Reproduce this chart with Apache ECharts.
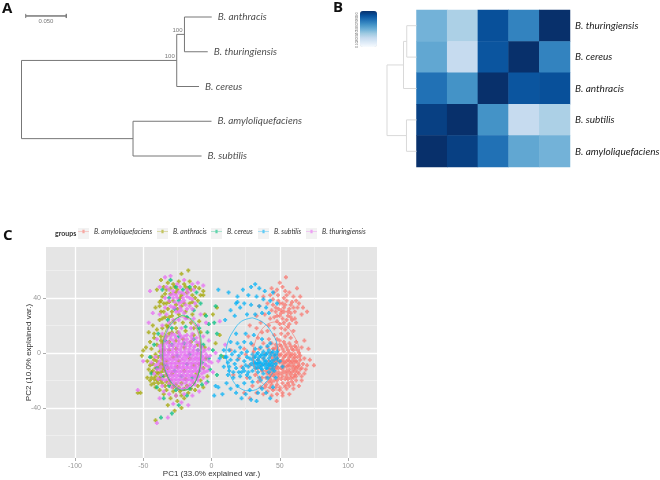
<!DOCTYPE html>
<html>
<head>
<meta charset="utf-8">
<title>Bacillus</title>
<script src="https://cdn.jsdelivr.net/npm/echarts@6/dist/echarts.min.js"></script>
<style>
  html, body { margin: 0; padding: 0; background: #fff; }
  #main { width: 660px; height: 480px; }
</style>
</head>
<body>
<div id="main"></div>
<script>
// heatmap (B)
var heatCols = ["B. amyloliquefaciens", "B. subtilis", "B. anthracis", "B. cereus", "B. thuringiensis"];
var heatRows = ["B. thuringiensis", "B. cereus", "B. anthracis", "B. subtilis", "B. amyloliquefaciens"];
var thuringRow = [48, 33, 88, 68, 100];
var cereusRow = [53, 25, 86, 100, 68];
var anthracisRow = [75, 62, 100, 86, 88];
var subtilisRow = [94, 100, 62, 25, 33];
var amyloRow = [100, 94, 75, 53, 48];
var heatValues = [thuringRow, cereusRow, anthracisRow, subtilisRow, amyloRow];
var keyTicks = [0, 100];

// phylogenetic tree (A): branch length, leaf rank
var treeBranches = [
  [[0.1907, 1.25], [0, 1.25], [0, 3.5], [0.137, 3.5]],
  [[0.2181, 2], [0.1907, 2], [0.1907, 0.5], [0.2002, 0.5]],
  [[0.2337, 0], [0.2002, 0], [0.2002, 1], [0.2288, 1]],
  [[0.2334, 3], [0.137, 3], [0.137, 4], [0.2212, 4]]
];
var treeLeaves = [
  ["B. anthracis", 0.2337, 0],
  ["B. thuringiensis", 0.2288, 1],
  ["B. cereus", 0.2181, 2],
  ["B. amyloliquefaciens", 0.2334, 3],
  ["B. subtilis", 0.2212, 4]
];
var bootstrapNodes = [[0.2002, 0.5, "100"], [0.1907, 1.25, "100"]];
var scaleBar = [[0.0052, -0.09], [0.0052, -0.03], [0.055, -0.03], [0.055, -0.09], [0.055, 0.03], [0.055, -0.03], [0.0052, -0.03], [0.0052, 0.03]];

// clustering dendrogram (B): height, row
var dendroBranches = [
  [[0.44, 1.75], [1, 1.75], [1, 4], [0.34, 4]],
  [[0, 2.5], [0.44, 2.5], [0.44, 1], [0.33, 1]],
  [[0, 0.5], [0.33, 0.5], [0.33, 1.5], [0, 1.5]],
  [[0, 3.5], [0.34, 3.5], [0.34, 4.5], [0, 4.5]]
];

// PCA (C)
var groupNames = ["B. amyloliquefaciens", "B. anthracis", "B. cereus", "B. subtilis", "B. thuringiensis"];
var groupColors = ["#F8766D", "#A3A500", "#00BF7D", "#00B0F6", "#E76BF3"];
var legendLefts = [78, 157, 211, 258, 306];
var xLabels = [-100, -50, 0, 50, 100];
var xMinor = [-75, -25, 25, 75];
var yLabels = [-40, 0, 40];
var yMinor = [-60, -20, 20, 60];

var amyloPoints = [
  [54.5,55],[62.6,47],[48.7,42],[52,48],[57,44],[60,41],[55,38],[50,36],[45,39],[47,33],[53,33],[58,35],[64,36],[67,33],[70,30],[66,28],[61,30],[56,30],[51,29],[48,27],[44,31],[41,36],[38,41],[35,34],[39,28],[43,25],[52,25],[58,26],[62,22],[57,21],[50,21],[46,18],[54,17],[60,16],[42,20],[36,22],[33,27],[49,32],[55,42],[59,37],[53,40],[46,44],[50,51],[44,47],[63,33],[65,41],[52,36],[56,27],[48,23],[61,25],
  [51,31],[54,35],[49,38],[57,32],[47,30],[55,24],[50,27],[53,30],[58,29],[60,33],[45,35],[43,42],[54,45],[48,46],[62,38],[59,24],[53,22],[46,26],[56,19],[51,18],
  [75,-9],[70,-9],[68,-4],[71,3],[66,4],[62,8],[58,11],[54,12],[50,9],[46,13],[42,10],[38,7],[34,11],[30,6],[27,12],[24,3],[20,-4],[65,-2],[63,2],[61,-1],[59,3],[57,0],[55,4],[53,1],[51,5],[49,2],[47,6],[45,3],[43,0],[41,4],[60,-4],[58,-2],[56,-5],[54,-2],[52,-5],[50,-2],[48,-4],[46,-1],[44,-3],[42,-6],[62,-6],[64,-9],[60,-8],[58,-7],[56,-9],[54,-7],[52,-9],[50,-7],[48,-10],[46,-7],[44,-9],[42,-11],[40,-8],[38,-4],[36,-9],[34,-5],[66,-11],[62,-11],[60,-12],[57,-12],[55,-13],[52,-12],[49,-14],[47,-12],[45,-14],[43,-15],[40,-13],[37,-13],[34,-11],[32,-16],[68,-15],[64,-15],[61,-16],[58,-16],[55,-17],[52,-17],[49,-18],[46,-17],[43,-19],[40,-18],[37,-18],[34,-21],[66,-20],[62,-20],[59,-21],[56,-22],[52,-22],[48,-23],[44,-23],[40,-23],[36,-25],[60,-26],[55,-26],[50,-27],[45,-27],[41,-28],[38,-30],[33,-29],[28,-33],[47.7,-35],[24,-29],[64,-24],[57,-30],[52,-31],[30,-24],[26,-18],[22,-10],[28,-9],[25,-1],[31,1],[35,3],[39,-1],[57,7],[61,5],[68,9],[44,7],[48,10],[53,8],[16,-16],[14,2],[37,15],[33,18],[28,20],[41,16],[51,14],[56,14],
  [64,0],[62,4],[60,2],[58,5],[56,2],[54,6],[52,3],[50,6],[48,4],[46,3],[65,-5],[63,-3],[61,-3],[59,-1],[57,-3],[55,-1],[53,-3],[51,-1],[49,-1],[47,-3],[63,-7],[61,-6],[59,-6],[57,-6],[55,-6],[53,-7],[51,-6],[49,-6],[47,-6],[45,-5],[65,-12],[63,-10],[61,-10],[59,-10],[57,-9],[55,-10],[53,-10],[51,-11],[49,-11],[47,-10],[45,-11],[43,-12],[63,-14],[61,-13],[59,-14],[57,-14],[55,-15],[53,-14],[51,-15],[49,-16],[47,-15],[45,-16],[43,-17],[41,-15],[62,-17],[60,-18],[58,-18],[56,-19],[54,-19],[51,-19],[48,-20],[46,-20],[44,-21],[42,-21],[60,-23],[57,-24],[54,-24],[50,-25],[47,-25],[43,-25],[39,-25],[52,-29],[48,-30],[44,-31],[67,-8],[69,-12],[72,-5],[66,-17]
];

var anthracisPoints = [
  [-17,60],[-22,57.5],[-32,51],[-37,53],[-40,46],[-33,46],[-28,50],[-24,52],[-20,50],[-16,52],[-12,48],[-9,47],[-25,46],[-30,43],[-36,41],[-35,36],[-28,38],[-22,42],[-18,44],[-14,42],[-10,38],[-6,45],[-6,42],[-26,35],[-32,32],[-37,30],[-41,33],[-22,34],[-16,36],[-11,34],[-14,28],[-19,30],[-24,28],[-29,27],[-34,26],[-38,24],[-43,20],[-46,15],[-40,17],[-33,20],[-27,22],[-21,22],[-15,22],[-9,23],[-5,28],[1,28],[4,33],
  [-35,48],[-30,47],[-26,44],[-23,40],[-20,36],[-27,48],[-34,43],[-37,38],[-33,36],[-29,30],[-25,32],[-38,34],[-35,30],[-31,26],[-12,40],[-8,42],[-15,46],[-19,48],[-36,25],[-32,19],[-29,15],[-37,9],[-42,14],
  [-54,-29],[-52,-29],[-50,1.7],[-51,-2],[-48,4],[-45,8],[-42,11],[-37,12],[-31,14],[-25,15],[-19,16],[-13,13],[-8,15],[-44,3],[-40,6],[-36,7],[-31,8],[-26,9],[-21,10],[-15,8],[-10,6],[-5,4],[-47,-6],[-44,-3],[-41,-1],[-38,1],[-35,2],[-31,2],[-26,3],[-43,-8],[-40,-6],[-38,-10],[-36,-4],[-35,-9],[-33,-6],[-46,-12],[-43,-13],[-40,-14],[-37,-14],[-35,-13],[-32,-11],[-47,-18],[-44,-18],[-41,-17],[-38,-18],[-35,-17],[-33,-16],[-42,-22],[-39,-22],[-36,-22],[-33,-21],[-30,-20],[-26,-23],[-22,-22],[-18,-24],[-13,-22],[-38,-27],[-33,-27],[-28,-28],[-23,-28],[-17,-29],[-12,-27],[-6,-25],[-3,-17],[-8,-20],[-30,-33],[-25,-35],[-20,-33],[-32,-38],[-27,-42],[-22,-40],[-41,-49],[-9,-8],[-6,-11],[-4,-4],[-11,-15],[-13,-9],[-16,-4],[-20,-13],[-25,-10],[-28,-3],[-29,-15],[-36,18],[-26,18],[-13,18],[-33,12],[3,7],[6,13],[9,-3],[-20,4],[-24,-6],[-19,-19],[-38,37],[-31,37],[-14,37],[-17,47],
  [-45,-9],[-42,-5],[-39,-3],[-37,-8],[-44,-14],[-41,-11],[-39,-15],[-36,-11],[-45,-20],[-42,-19],[-40,-20],[-37,-20],[-34,-24],[-31,-23],[-41,-25],[-44,-23],[-28,-25],[-24,-25],[-20,-26],[-15,-26],[-10,-24],[-35,-30],[-26,-31],[-22,-31]
];

var cereusPoints = [
  [-30,53],[-26,48],[-21,46],[-16,48],[-11,44],[-24,38],[-31,40],[-36,46],[-8,36],[-13,31],[-4,27],[3,34],[2,22],[-2,21],[-18,26],[-27,32],[-32,24],[-39,14],[-29,18],[-19,19],[-9,18],[-3,15],[4,14],[-42,6],[-34,9],[-24,12],[-13,10],[-6,6],[1,2],[7,-2],[-45,-3],[-37,-2],[-29,6],[-20,7],[-10,2],[-2,-4],[-40,-11],[-33,-9],[-25,-2],[-16,-1],[-7,-7],[-1,-12],[4,-16],[-44,-15],[-36,-17],[-27,-13],[-18,-8],[-9,-13],[-3,-21],[-40,-25],[-31,-24],[-22,-17],[-14,-18],[-7,-23],[-26,-27],[-16,-26],[-35,-33],[-18,-31],[-24,-38],[-29,-44],[-37,-47]
];

var subtilisPoints = [
  [32,50],[23,46],[12.5,44],[29,48],[35,47],[39,45],[45,44],[27,42],[19,41],[33,41],[38,39],[43,38],[48,36],[24,36],[18,36],[29,35],[35,34],[40,33],[21,33],[14,31],[17,27],[10,24],[37,29],[32,28],[26,28],[42,29],[5,46],[19,37],
  [2,-31],[5,-25],[3,-24],[8,-30],[11,-22],[14,-26],[18,-29],[22,-33],[25,-30],[29,-34],[33,-35],[28,-27],[34,-29],[37,-26],[40,-29],[43,-33],[45,-25],[19,-24],[24,-22],[30,-21],[36,-20],[12,-16],[16,-18],[21,-17],[26,-16],[9,-10],[13,-10],[18,-11],[23,-11],[27,-10],[6,-4],[10,-3],[14,-5],[19,-5],[24,-6],[28,-4],[9,2],[13,2],[17,1],[22,0],[26,1],[14,8],[19,7],[24,8],[29,7],[18,14],[25,14],[31,13],[37,10],[43,7],
  [15,-1],[12,-7],[17,-8],[20,-2],[16,-14],[20,-14],[24,-13],[13,-13],[11,-3],[21,4],[26,-3],[29,-8],[25,-9],
  [30,-1],[32,-3],[34,0],[36,-2],[38,1],[40,-1],[42,2],[44,0],[46,-2],[48,1],[30,-5],[32,-7],[34,-5],[36,-7],[38,-4],[40,-6],[42,-4],[44,-6],[46,-5],[48,-4],[31,-9],[33,-11],[35,-10],[37,-12],[39,-9],[41,-11],[43,-9],[45,-10],[47,-8],[30,-13],[34,-14],[38,-15],[42,-14],[46,-13],[36,4],[32,3],[41,5],[27,-14],[28,-18],[35,-18],[41,-18],[47,-18],[22,-14],[50,-6],[52,-10],
  [31,-3],[33,-1],[35,-3],[37,-1],[39,-2],[41,0],[43,-2],[45,1],[47,-1],[31,-7],[33,-8],[35,-7],[37,-9],[39,-6],[41,-8],[43,-7],[45,-8],[32,-11],[36,-11],[40,-11],[44,-12],[38,-8],[34,-8],[42,-9]
];

var thuringPoints = [
  [-45,45],[-34,55],[-30,56],[-25,50],[-20,53],[-14,50],[-10,51],[-6,49],[-38,48],[-33,48],[-28,45],[-23,48],[-18,46],[-13,46],[-30,42],[-26,42],[-22,44],[-18,41],[-14,39],[-34,40],[-31,38],[-28,40],[-24,36],[-20,38],[-16,34],[-12,36],[-34,33],[-30,34],[-26,30],[-22,31],[-18,32],[-14,32],[-38,28],[-33,28],[-28,24],[-24,24],[-19,25],[-13,25],[-8,28],[-43,29],[-46,22],[-36,20],[-31,22],[-22,18],[-15,18],[-10,20],[-4,22],[6,23],[-40,10],[-36,14],[-30,12],[-27,13],[-23,13],[-18,13],[-14,14],[-50,-6],[-54,-27],[-40,-51],[-32,-47],[-38,-33],[-28,-37],[-22,-36],[-17,-38],[-26,-31],[-31,-30],[-35,-28],[-20,-30],[-14,-31],[-9,-28],[-4,-22],[1,-14],[5,-6],[10,6],[3,0],[-2,3],[-2,9],[-6,12],
  [-28,43],[-25,40],[-21,40],[-24,44],[-20,43],[-27,37],[-23,33],[-19,35],[-27,33],[-24,30],[-20,29],[-16,40],[-17,44],[-31,46],[-28,33],[-22,37],
  [-34,10],[-30,10],[-26,11],[-22,11],[-18,10],[-14,10],[-11,8],[-36,6],[-33,7],[-30,6],[-27,7],[-24,7],[-21,7],[-18,7],[-15,6],[-12,5],[-8,5],[-37,3],[-34,3],[-31,3],[-28,3],[-25,3],[-22,4],[-19,3],[-16,3],[-13,2],[-10,2],[-6,1],[-37,0],[-34,-1],[-31,0],[-28,-1],[-25,0],[-22,0],[-19,-1],[-16,0],[-13,-1],[-10,-1],[-7,-2],[-4,-1],[-36,-4],[-33,-4],[-30,-4],[-27,-4],[-24,-3],[-21,-4],[-18,-3],[-15,-4],[-12,-4],[-9,-4],[-5,-5],[-35,-7],[-32,-7],[-29,-7],[-26,-7],[-23,-7],[-20,-7],[-17,-7],[-14,-7],[-11,-7],[-8,-7],[-5,-8],[-35,-10],[-32,-10],[-29,-10],[-26,-10],[-23,-10],[-20,-10],[-17,-10],[-14,-10],[-11,-10],[-8,-11],[-34,-13],[-31,-13],[-28,-13],[-25,-13],[-22,-13],[-19,-13],[-16,-13],[-13,-13],[-10,-14],[-33,-16],[-30,-16],[-27,-16],[-24,-16],[-21,-16],[-18,-16],[-15,-16],[-12,-17],[-32,-19],[-29,-19],[-26,-19],[-23,-19],[-20,-19],[-17,-19],[-14,-20],[-28,-22],[-25,-22],[-22,-23],[-19,-22],[-16,-23],[-24,-26],[-21,-26],[-29,-25],[-44,-7],[-41,-9],[-38,-6],[-42,-15],[-39,-19],[-36,-24],[-2,-10],[0,-7],[-5,-14],[-6,-18],
  [-32,8],[-28,9],[-24,9],[-20,9],[-16,8],[-35,5],[-31,5],[-28,5],[-25,5],[-22,6],[-19,5],[-16,5],[-13,4],[-35,1],[-32,1],[-29,1],[-26,1],[-23,2],[-20,1],[-17,1],[-14,1],[-11,0],[-8,0],[-35,-2],[-32,-2],[-29,-2],[-26,-2],[-23,-2],[-20,-2],[-17,-2],[-14,-2],[-11,-3],[-34,-5],[-31,-5],[-28,-5],[-25,-5],[-22,-5],[-19,-5],[-16,-5],[-13,-5],[-10,-5],[-33,-8],[-30,-8],[-27,-8],[-24,-8],[-21,-8],[-18,-8],[-15,-8],[-12,-8],[-9,-8],[-33,-11],[-30,-11],[-27,-11],[-24,-11],[-21,-11],[-18,-11],[-15,-11],[-12,-11],[-32,-14],[-29,-14],[-26,-14],[-23,-14],[-20,-14],[-17,-14],[-14,-14],[-11,-13],[-31,-17],[-28,-17],[-25,-17],[-22,-17],[-19,-17],[-16,-17],[-13,-17],[-30,-20],[-27,-20],[-24,-20],[-21,-20],[-18,-20],[-15,-20],
  [-37,-3],[-39,-8],[-38,-12],[-37,-16],[-36,2],[-38,5],[-33,12],[-29,14],[-24,15],[-20,12],[-15,12],[-11,11],[-9,7],[-7,4],[-5,2],[-3,-3],[-2,-6],[-4,-9],[-6,-12],[-7,-15],[-9,-17],[-10,-20],[-12,-23],[-15,-24],[-18,-25],[-27,-24],[-31,-22],[-34,-20],[-36,-19],[-37,-10],[-6,-3],[-7,-5],[-8,-9],[-9,-13],[-10,-17],[-11,-19],[-13,-22],[-41,-3],[-40,-12],[-3,-13],[-1,-2]
];

// concentration ellipses, one for each group
var amyloEllipse = [[46,22.5],[54,20],[60,13],[64,4],[64.8,-5],[62,-14],[56,-22],[48,-27],[41,-25],[35,-19],[31.5,-10],[30.4,-1],[32,8],[36,16],[41,21],[46,22.5]];
var anthracisEllipse = [[-22,27],[-15,24],[-10,16],[-8,5],[-8,-6],[-10,-16],[-14,-24],[-21,-27.5],[-28,-24],[-33,-16],[-36,-6],[-36,5],[-34,15],[-29,23],[-22,27]];
var cereusEllipse = [[-21,27.5],[-14,24],[-9,16],[-7.5,5],[-8,-7],[-10,-17],[-15,-25],[-21,-27],[-27,-24],[-32,-17],[-35,-7],[-35.5,4],[-33,15],[-28,23],[-21,27.5]];
var subtilisEllipse = [[30,25.5],[38,22],[44,15],[48,6],[48.5,-3],[46,-12],[41,-20],[34,-26],[27,-27.6],[20,-25],[15,-19],[12,-10],[10.6,-1],[12,8],[16,16],[22,23],[30,25.5]];
var thuringEllipse = [[-22,26],[-15,23],[-10,15],[-8.5,5],[-9,-6],[-11,-16],[-15,-23],[-21,-26],[-27,-23],[-32,-15],[-35,-5],[-35,5],[-33,14],[-28,22],[-22,26]];

var groupPoints = [amyloPoints, anthracisPoints, cereusPoints, subtilisPoints, thuringPoints];
var groupEllipses = [amyloEllipse, anthracisEllipse, cereusEllipse, subtilisEllipse, thuringEllipse];

var speciesFont = "Lato";
var plusIcon = "path://M2.5 0H6.5V2.5H9V6.5H6.5V9H2.5V6.5H0V2.5H2.5Z";
var letterStyle = { fontFamily: "Open Sans", fontSize: 15, fontWeight: "bold", color: "#111" };

var heatData = [];
heatValues.forEach(function(row, r) {
  row.forEach(function(v, c) {
    heatData.push([c, r, v]);
  });
});

var series = [];
treeBranches.forEach(function(b) {
  series.push({
    type: "line", xAxisIndex: 0, yAxisIndex: 0, data: b, showSymbol: false, silent: true,
    clip: false, lineStyle: { color: "#777", width: 1 }
  });
});
series.push({
  type: "line", xAxisIndex: 0, yAxisIndex: 0, data: scaleBar, showSymbol: false, silent: true,
  clip: false, lineStyle: { color: "#777", width: 1 }
});
series.push({
  type: "scatter", xAxisIndex: 0, yAxisIndex: 0, symbolSize: 0, silent: true, clip: false,
  data: treeLeaves.map(function(l) { return { name: l[0], value: [l[1], l[2]] }; }),
  label: {
    show: true, position: "right", distance: 6, formatter: "{b}",
    fontFamily: speciesFont, fontStyle: "italic", fontSize: 10, color: "#222"
  }
});
series.push({
  type: "scatter", xAxisIndex: 0, yAxisIndex: 0, symbolSize: 0, silent: true, clip: false,
  data: bootstrapNodes.map(function(n) { return { name: n[2], value: [n[0], n[1]] }; }),
  label: {
    show: true, position: "left", distance: 2, offset: [0, -4], formatter: "{b}",
    fontFamily: "Liberation Sans", fontSize: 6, color: "#555"
  }
});
series.push({
  type: "scatter", xAxisIndex: 0, yAxisIndex: 0, symbolSize: 0, silent: true, clip: false,
  data: [{ name: "0.050", value: [0.03, -0.03] }],
  label: {
    show: true, position: "bottom", distance: 2, formatter: "{b}",
    fontFamily: "Liberation Sans", fontSize: 6, color: "#555"
  }
});
dendroBranches.forEach(function(b) {
  series.push({
    type: "line", xAxisIndex: 1, yAxisIndex: 1, data: b, showSymbol: false, silent: true,
    lineStyle: { color: "#d9d9d9", width: 1 }
  });
});
var heatSeriesIndex = series.length;
series.push({
  type: "heatmap", xAxisIndex: 2, yAxisIndex: 2, data: heatData, silent: true,
  itemStyle: { borderWidth: 0 }
});
groupNames.forEach(function(name, i) {
  series.push({
    name: name, type: "scatter", xAxisIndex: 4, yAxisIndex: 4, data: groupPoints[i],
    symbol: plusIcon, symbolSize: 4, silent: true,
    itemStyle: { color: groupColors[i], opacity: 0.75 }, z: 3
  });
});
groupNames.forEach(function(name, i) {
  series.push({
    name: name, type: "line", xAxisIndex: 4, yAxisIndex: 4, data: groupEllipses[i],
    smooth: 0.4, showSymbol: false, silent: true,
    itemStyle: { color: groupColors[i] },
    lineStyle: { color: groupColors[i], width: 0.8, opacity: 0.8 }, z: 4
  });
});

var option = {
  animation: false,
  backgroundColor: "#fff",
  textStyle: { fontFamily: "Liberation Sans" },
  title: [
    { text: "A", left: 2, top: 1, padding: 0, textStyle: letterStyle },
    { text: "B", left: 333, top: 0, padding: 0, textStyle: letterStyle },
    { text: "C", left: 3, top: 228, padding: 0, textStyle: letterStyle },
    { text: "groups", left: 55, top: 230, padding: 0, textStyle: { fontFamily: "Lato", fontSize: 7, fontWeight: "bold", color: "#333" } }
  ],
  graphic: legendLefts.map(function(x) {
    return { type: "rect", left: x, top: 228, shape: { width: 11, height: 11 }, style: { fill: "#f2f2f2" }, z: 0 };
  }),
  legend: groupNames.map(function(name, i) {
    return {
      left: legendLefts[i], top: 228, padding: 0, itemWidth: 11, itemHeight: 11,
      data: [name], icon: "path://M0 4.7H10V5.3H0ZM4 3.5H6V6.5H4Z",
      itemStyle: { opacity: 0.6 },
      textStyle: { fontFamily: speciesFont, fontStyle: "italic", fontSize: 6.9, color: "#333" }
    };
  }),
  grid: [
    { left: 21.5, top: 17, width: 203.5, height: 139, outerBoundsMode: "none" },
    { left: 387, top: 10, width: 29.5, height: 157, outerBoundsMode: "none" },
    { left: 416.5, top: 10, width: 153.5, height: 157, outerBoundsMode: "none" },
    { left: 360, top: 11, width: 17, height: 36, outerBoundsMode: "none" },
    { left: 46, top: 247, width: 331, height: 211, show: true, backgroundColor: "#e5e5e5", borderWidth: 0, outerBoundsMode: "none" }
  ],
  xAxis: [
    { type: "value", gridIndex: 0, min: 0, max: 0.25, show: false },
    { type: "value", gridIndex: 1, min: 0, max: 1, inverse: true, show: false },
    { type: "category", gridIndex: 2, data: heatCols, show: false },
    { type: "value", gridIndex: 3, min: 0, max: 1, show: false },
    {
      type: "value", gridIndex: 4, position: "bottom", min: -121.2, max: 121.2,
      name: "PC1 (33.0% explained var.)", nameLocation: "middle", nameGap: 16, nameMoveOverlap: false,
      nameTextStyle: { fontSize: 8, color: "#333", verticalAlign: "middle" },
      axisLine: { show: false, onZero: false },
      axisTick: { show: true, length: 3, customValues: xLabels, lineStyle: { color: "#aaa" } },
      axisLabel: { customValues: xLabels, fontSize: 7, color: "#999", margin: 5 },
      splitLine: { show: true, lineStyle: { color: "#fff", width: 1.3 } }
    },
    {
      type: "value", gridIndex: 4, position: "bottom", min: -121.2, max: 121.2,
      axisLine: { show: false, onZero: false }, axisLabel: { show: false },
      axisTick: { show: false, customValues: xMinor },
      splitLine: { show: true, lineStyle: { color: "#f2f2f2", width: 0.7 } }
    }
  ],
  yAxis: [
    { type: "value", gridIndex: 0, min: 0, max: 4, inverse: true, show: false },
    { type: "value", gridIndex: 1, min: 0, max: 5, inverse: true, show: false },
    {
      type: "category", gridIndex: 2, data: heatRows, inverse: true, position: "right",
      axisLine: { show: false }, axisTick: { show: false }, splitLine: { show: false },
      axisLabel: { fontFamily: speciesFont, fontStyle: "italic", fontSize: 10, color: "#222", margin: 5 }
    },
    {
      type: "value", gridIndex: 3, min: keyTicks[0], max: keyTicks[1], interval: 10,
      axisLine: { show: false }, axisTick: { show: false }, splitLine: { show: false },
      axisLabel: { rotate: 90, fontSize: 4, color: "#777", margin: 1 }
    },
    {
      type: "value", gridIndex: 4, position: "left", min: -76.4, max: 77,
      name: "PC2 (10.0% explained var.)", nameLocation: "middle", nameGap: 17, nameMoveOverlap: false,
      nameTextStyle: { fontSize: 8, color: "#333", verticalAlign: "middle" },
      axisLine: { show: false, onZero: false },
      axisTick: { show: true, length: 3, customValues: yLabels, lineStyle: { color: "#aaa" } },
      axisLabel: { customValues: yLabels, fontSize: 7, color: "#999", margin: 5 },
      splitLine: { show: true, lineStyle: { color: "#fff", width: 1.3 } }
    },
    {
      type: "value", gridIndex: 4, position: "left", min: -76.4, max: 77,
      axisLine: { show: false, onZero: false }, axisLabel: { show: false },
      axisTick: { show: false, customValues: yMinor },
      splitLine: { show: true, lineStyle: { color: "#f2f2f2", width: 0.7 } }
    }
  ],
  visualMap: {
    type: "continuous", min: keyTicks[0], max: keyTicks[1], seriesIndex: heatSeriesIndex,
    left: 360, top: 11, itemWidth: 17, itemHeight: 36, padding: 0,
    calculable: false, hoverLink: false,
    inRange: { color: ["#f7fbff", "#deebf7", "#c6dbef", "#9ecae1", "#6baed6", "#4292c6", "#2171b5", "#08519c", "#08306b"] }
  },
  series: series
};

var chart = echarts.init(document.getElementById("main"), null, { renderer: "canvas" });
chart.setOption(option);
window.addEventListener("resize", chart.resize);
</script>
</body>
</html>
